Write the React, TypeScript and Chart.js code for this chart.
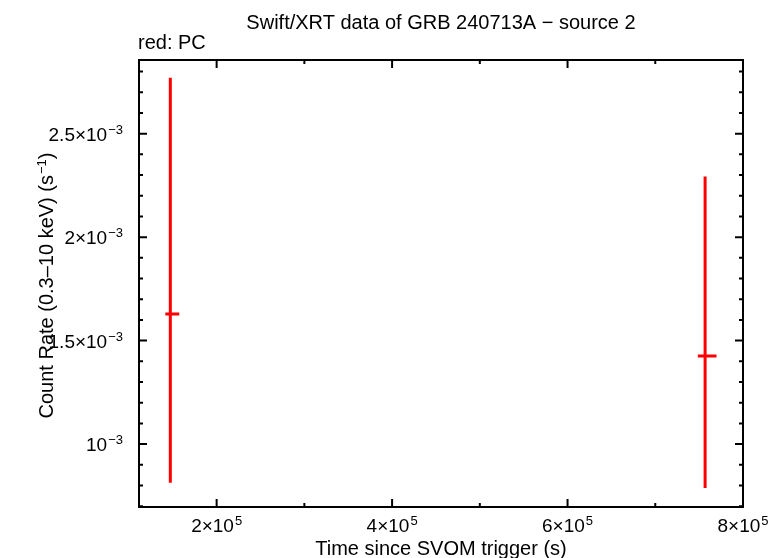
import React, { useEffect, useRef } from "react";
import { Chart, registerables } from "chart.js";

Chart.register(...registerables);

// ---- data ----
const xValues = [147200, 756800];
const xErrMinus = [5700, 8300];
const xErrPlus = [10200, 13000];
const yValues = [1.629e-3, 1.426e-3];
const yErrMinus = [0.816e-3, 0.638e-3];
const yErrPlus = [1.141e-3, 0.867e-3];

// ---- axes ----
const xMin = 111500;
const xMax = 800000;
const yMin = 0.696e-3;
const yMax = 2.856e-3;

const xMajorTicks = [200000, 400000, 600000, 800000];
const xMinorTicks = [300000, 500000, 700000];
const xTickMantissas = ["2", "4", "6", "8"];
const xTickExponents = ["5", "5", "5", "5"];

const yMajorTicks = [1.0e-3, 1.5e-3, 2.0e-3, 2.5e-3];
const yMinorTicks = [
  0.7e-3, 0.8e-3, 0.9e-3, 1.1e-3, 1.2e-3, 1.3e-3, 1.4e-3, 1.6e-3, 1.7e-3,
  1.8e-3, 1.9e-3, 2.1e-3, 2.2e-3, 2.3e-3, 2.4e-3, 2.6e-3, 2.7e-3, 2.8e-3,
];
const yTickMantissas = ["", "1.5", "2", "2.5"];
const yTickExponents = ["\u22123", "\u22123", "\u22123", "\u22123"];

const titleText = "Swift/XRT data of GRB 240713A \u2212 source 2";
const subtitleText = "red: PC";
const xTitle = "Time since SVOM trigger (s)";
const yTitleMain = "Count Rate (0.3\u201310 keV) (s";
const yTitleSup = "\u22121";
const yTitleEnd = ")";

const FAMILY = '"Liberation Sans", Arial, Helvetica, sans-serif';
const mainFont = `20px ${FAMILY}`;
const tickFont = `19px ${FAMILY}`;
const supFont = `13px ${FAMILY}`;

function drawSci(
  ctx: CanvasRenderingContext2D,
  mant: string,
  exp: string,
  x: number,
  y: number,
  align: "center" | "right"
) {
  const base = mant ? mant + "\u00d710" : "10";
  ctx.font = tickFont;
  const w1 = ctx.measureText(base).width;
  ctx.font = supFont;
  const w2 = ctx.measureText(exp).width;
  const total = w1 + 1 + w2;
  const sx = align === "center" ? x - total / 2 : x - total;
  ctx.textAlign = "left";
  ctx.textBaseline = "alphabetic";
  ctx.font = tickFont;
  ctx.fillText(base, sx, y);
  ctx.font = supFont;
  ctx.fillText(exp, sx + w1 + 1, y - 7);
}

const framePlugin = {
  id: "framePlugin",
  afterDatasetsDraw(chart: any) {
    const ctx: CanvasRenderingContext2D = chart.ctx;
    const { left, right, top, bottom } = chart.chartArea;
    const xs = chart.scales.x;
    const ys = chart.scales.y;

    // error bars
    ctx.save();
    ctx.strokeStyle = "#ff0000";
    ctx.lineWidth = 3;
    ctx.lineCap = "butt";
    for (let i = 0; i < xValues.length; i++) {
      const px = xs.getPixelForValue(xValues[i]);
      const py = ys.getPixelForValue(yValues[i]);
      const pxl = xs.getPixelForValue(xValues[i] - xErrMinus[i]);
      const pxr = xs.getPixelForValue(xValues[i] + xErrPlus[i]);
      const pyt = ys.getPixelForValue(yValues[i] + yErrPlus[i]);
      const pyb = ys.getPixelForValue(yValues[i] - yErrMinus[i]);
      ctx.beginPath();
      ctx.moveTo(px, pyt);
      ctx.lineTo(px, pyb);
      ctx.moveTo(pxl, py);
      ctx.lineTo(pxr, py);
      ctx.stroke();
    }
    ctx.restore();

    // frame
    ctx.save();
    ctx.strokeStyle = "#000";
    ctx.lineWidth = 2;
    ctx.strokeRect(left, top, right - left, bottom - top);

    const major = 8;
    const minor = 4;
    ctx.beginPath();
    for (const v of xMajorTicks) {
      const p = xs.getPixelForValue(v);
      ctx.moveTo(p, bottom);
      ctx.lineTo(p, bottom - major);
      ctx.moveTo(p, top);
      ctx.lineTo(p, top + major);
    }
    for (const v of xMinorTicks) {
      const p = xs.getPixelForValue(v);
      ctx.moveTo(p, bottom);
      ctx.lineTo(p, bottom - minor);
      ctx.moveTo(p, top);
      ctx.lineTo(p, top + minor);
    }
    for (const v of yMajorTicks) {
      const p = ys.getPixelForValue(v);
      ctx.moveTo(left, p);
      ctx.lineTo(left + major, p);
      ctx.moveTo(right, p);
      ctx.lineTo(right - major, p);
    }
    for (const v of yMinorTicks) {
      const p = ys.getPixelForValue(v);
      ctx.moveTo(left, p);
      ctx.lineTo(left + minor, p);
      ctx.moveTo(right, p);
      ctx.lineTo(right - minor, p);
    }
    ctx.stroke();

    ctx.fillStyle = "#000";
    // x tick labels
    xMajorTicks.forEach((v, i) => {
      const p = xs.getPixelForValue(v);
      drawSci(ctx, xTickMantissas[i], xTickExponents[i], p, bottom + 25, "center");
    });
    // y tick labels
    yMajorTicks.forEach((v, i) => {
      const p = ys.getPixelForValue(v);
      drawSci(ctx, yTickMantissas[i], yTickExponents[i], left - 16, p + 7, "right");
    });

    // titles
    const cx = (left + right) / 2;
    ctx.font = mainFont;
    ctx.textAlign = "center";
    ctx.textBaseline = "alphabetic";
    ctx.fillText(titleText, cx, 29);
    ctx.textAlign = "left";
    ctx.fillText(subtitleText, left - 1, 49);
    ctx.textAlign = "center";
    ctx.fillText(xTitle, cx, 555);

    // y title, rotated
    ctx.save();
    ctx.translate(53, (top + bottom) / 2 + 2);
    ctx.rotate(-Math.PI / 2);
    ctx.font = mainFont;
    const w1 = ctx.measureText(yTitleMain).width;
    ctx.font = supFont;
    const w2 = ctx.measureText(yTitleSup).width;
    ctx.font = mainFont;
    const w3 = ctx.measureText(yTitleEnd).width;
    const total = w1 + w2 + 1 + w3;
    let sx = -total / 2;
    ctx.textAlign = "left";
    ctx.fillText(yTitleMain, sx, 0);
    sx += w1 + 1;
    ctx.font = supFont;
    ctx.fillText(yTitleSup, sx, -7);
    sx += w2;
    ctx.font = mainFont;
    ctx.fillText(yTitleEnd, sx, 0);
    ctx.restore();

    ctx.restore();
  },
};

export default function App() {
  const canvasRef = useRef<HTMLCanvasElement | null>(null);

  useEffect(() => {
    if (!canvasRef.current) return;
    const chart = new Chart(canvasRef.current, {
      type: "scatter",
      data: {
        datasets: [
          {
            data: xValues.map((x, i) => ({ x, y: yValues[i] })),
            pointRadius: 0,
            showLine: false,
            borderColor: "#ff0000",
            backgroundColor: "#ff0000",
          },
        ],
      },
      options: {
        responsive: false,
        animation: false,
        devicePixelRatio: 1,
        layout: { padding: { left: 139, right: 40, top: 60, bottom: 51 } },
        scales: {
          x: { type: "linear", min: xMin, max: xMax, display: false },
          y: { type: "linear", min: yMin, max: yMax, display: false },
        },
        plugins: { legend: { display: false }, tooltip: { enabled: false } },
      },
      plugins: [framePlugin],
    });
    return () => chart.destroy();
  }, []);

  return (
    <div style={{ position: "absolute", left: 0, top: 0, width: 783, height: 558, background: "#fff" }}>
      <canvas ref={canvasRef} width={783} height={558} style={{ display: "block" }} />
    </div>
  );
}
